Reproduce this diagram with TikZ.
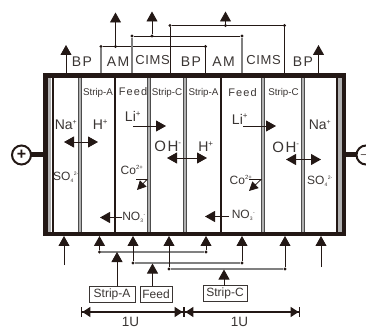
\documentclass[tikz,border=0pt]{standalone}
\usepackage{fontspec}
\setmainfont{Liberation Sans}
\newfontfamily\wide[LetterSpace=10]{Liberation Sans}
\newfontfamily\widec[LetterSpace=5]{Liberation Sans}
\usetikzlibrary{arrows.meta}
\definecolor{ink}{HTML}{231815}
\definecolor{memb}{HTML}{B0B0B0}
\definecolor{wire}{HTML}{808080}
\definecolor{txt}{HTML}{3A3533}
\tikzset{
  x=1pt,y=-1pt,
  every node/.style={inner sep=0pt,outer sep=0pt,text=txt},
  tip/.style={-{Triangle[length=10pt,width=11pt]},ink,line width=.9pt},
  twotip/.style={{Triangle[length=10pt,width=11pt]}-{Triangle[length=10pt,width=11pt]},ink,line width=.9pt},
  smalltip/.style={-{Triangle[length=9pt,width=9pt]},ink,line width=.8pt},
  dimline/.style={{Bar[width=10pt,length=.8pt]Triangle[length=8pt,width=10pt]}-{Triangle[length=8pt,width=10pt]Bar[width=10pt,length=.8pt]},ink,line width=1.4pt},
  graywire/.style={wire,line width=1.2pt},
  darkwire/.style={ink,line width=.8pt},
  junction/.style={circle,fill=ink,minimum size=3.4pt},
  membrane/.style={draw=gray!60!black,line width=.7pt,double=memb,double distance=2.4pt},
  blackline/.style={ink,line width=1.5pt},
  frame/.style={draw=ink,line width=4.6pt},
  feedbox/.style={draw=txt,line width=.7pt,minimum height=16pt,font=\fontsize{12}{13}\selectfont},
  head/.style={font=\wide\fontsize{14}{15}\selectfont},
  headc/.style={font=\widec\fontsize{13}{14}\selectfont},
  cell/.style={font=\fontsize{9.8}{10}\selectfont},
  cellb/.style={font=\wide\fontsize{11}{12}\selectfont},
  ion/.style={font=\fontsize{14}{15}\selectfont},
  ionb/.style={font=\wide\fontsize{15}{16}\selectfont},
  ionc/.style={font=\fontsize{12}{13}\selectfont},
  pole/.style={circle,draw=ink,line width=2pt,minimum size=19pt,fill=white,font=\bfseries\fontsize{16}{16}\selectfont,text=ink},
  ulabel/.style={font=\fontsize{13.5}{14}\selectfont}
}
\newcommand{\sscr}[2]{$\vphantom{X}^{\hbox{\fontsize{#1}{#1}\selectfont #2}}$}
\newcommand{\ssub}[2]{$\vphantom{X}_{\hbox{\fontsize{#1}{#1}\selectfont #2}}$}
\begin{document}
\begin{tikzpicture}
\useasboundingbox (0,0) rectangle (366,328);
% cell stack
\draw[membrane] (80,76) -- (80,233);
\draw[blackline] (115,76) -- (115,233);
\draw[membrane] (149,76) -- (149,233);
\draw[membrane] (185,76) -- (185,233);
\draw[blackline] (221,76) -- (221,233);
\draw[membrane] (263,76) -- (263,233);
\draw[membrane] (303,76) -- (303,233);
\draw[memb,line width=3.5pt] (49.5,76) -- (49.5,233);
\draw[ink,line width=2pt] (52.5,76) -- (52.5,233);
\draw[ink,line width=2pt] (336.5,76) -- (336.5,233);
\draw[memb,line width=3.5pt] (340,76) -- (340,233);
\draw[frame] (45.3,75.5) rectangle (344,234.2);
% electrodes
\node[pole] (plus) at (21.5,155) {+};
\node[pole] (minus) at (366,155) {\raisebox{1pt}{$-$}};
\coordinate (lstub) at (45,155);
\coordinate (rstub) at (344,155);
\draw[ink,line width=5pt] (plus) -- (lstub);
\draw[ink,line width=5pt] (minus) -- (rstub);
% top outlets
\coordinate (bpL0) at (66,73); \coordinate (bpLt) at (66,45);
\draw[tip] (bpL0) -- (bpLt);
\coordinate (bpR0) at (318.5,73); \coordinate (bpRt) at (318.5,45);
\draw[tip] (bpR0) -- (bpRt);
\node[junction] (a1) at (101,46.5) {};
\node[junction] (a2) at (115.5,46.5) {};
\node[junction] (a3) at (205.5,46.5) {};
\node[junction] (b1) at (132,36) {};
\node[junction] (b2) at (152,36) {};
\node[junction] (b3) at (242,36) {};
\node[junction] (c1) at (170,25.5) {};
\node[junction] (c2) at (225.5,25.5) {};
\node[junction] (c3) at (284.5,25.5) {};
\coordinate (a1f) at (101,73); \coordinate (a3f) at (205.5,73);
\coordinate (b1f) at (132,73); \coordinate (b3f) at (242,73);
\coordinate (c1f) at (170,73); \coordinate (c3f) at (284.5,73);
\draw[darkwire] (a1) -- (a3);
\draw[darkwire] (b1) -- (b3);
\draw[darkwire] (c1) -- (c3);
\draw[graywire] (a1f) -- (a1);
\draw[darkwire] (a3f) -- (a3);
\draw[graywire] (b1f) -- (b1);
\draw[graywire] (b3f) -- (b3);
\draw[darkwire] (c1f) -- (c1);
\draw[darkwire] (c3f) -- (c3);
\coordinate (a2t) at (115.5,12.5); \coordinate (b2t) at (152,11.5); \coordinate (c2t) at (225.5,11.5);
\draw[tip] (a2) -- (a2t);
\draw[tip] (b2) -- (b2t);
\draw[tip] (c2) -- (c2t);
% bottom inlets
\coordinate (inL0) at (64,265); \coordinate (inLt) at (64,236);
\draw[tip] (inL0) -- (inLt);
\coordinate (inR0) at (321,267); \coordinate (inRt) at (321,236);
\draw[tip] (inR0) -- (inRt);
\node[junction] (d1) at (99.5,252) {};
\node[junction] (d2) at (206,252) {};
\node[junction] (e1) at (133,263) {};
\node[junction] (e2) at (242,263) {};
\node[junction] (f1) at (169,269) {};
\node[junction] (f2) at (285,269) {};
\draw[graywire] (d1) -- (d2);
\draw[wire,line width=1.6pt] (e1) -- (e2);
\draw[graywire] (f1) -- (f2);
\coordinate (d1t) at (99.5,236); \coordinate (d2t) at (206,236);
\coordinate (e1t) at (133,236); \coordinate (e2t) at (242,236);
\coordinate (f1t) at (169,236); \coordinate (f2t) at (285,236);
\draw[tip] (d1) -- (d1t);
\draw[tip] (d2) -- (d2t);
\draw[tip] (e1) -- (e1t);
\draw[tip] (e2) -- (e2t);
\draw[tip] (f1) -- (f1t);
\draw[tip] (f2) -- (f2t);
% feed boxes
\node[feedbox,minimum width=46pt] (sa) at (112,294) {Strip-A};
\node[feedbox,minimum width=32pt] (fd) at (156,294) {Feed};
\node[feedbox,minimum width=44pt] (sc) at (225,293.5) {Strip-C};
\coordinate (saT) at (117,252); \coordinate (saB) at (117,286);
\coordinate (fdT) at (152.5,263.5); \coordinate (fdB) at (152.5,286);
\coordinate (scT) at (224,269.5); \coordinate (scB) at (224,285.5);
\draw[tip] (saB) -- (saT);
\draw[tip] (fdB) -- (fdT);
\draw[tip] (scB) -- (scT);
% 1U dimensions
\coordinate (u0) at (81,312); \coordinate (u1) at (184,312); \coordinate (u2) at (300,312);
\draw[dimline] (u0) -- (u1);
\draw[dimline] (u1) -- (u2);
\node[ulabel] (ua) at (130.5,321.5) {1U};
\node[ulabel] (ub) at (239.5,321.5) {1U};
% top labels
\node[head] (t1) at (82,62) {BP};
\node[head] (t2) at (118,62) {AM};
\node[headc] (t3) at (152.5,60.5) {CIMS};
\node[head] (t4) at (191,61.5) {BP};
\node[head] (t5) at (223.5,62) {AM};
\node[headc] (t6) at (263.5,60.5) {CIMS};
\node[head] (t7) at (303,62) {BP};
% cell labels
\node[cell] (s1) at (98,92.5) {Strip-A};
\node[cellb] (s2) at (133,92) {Feed};
\node[cell] (s3) at (167,93) {Strip-C};
\node[cell] (s4) at (203.5,93) {Strip-A};
\node[cellb] (s5) at (242.5,93) {Feed};
\node[cell] (s6) at (283.5,92.5) {Strip-C};
% ions
\node[ion] (na1) at (66,125) {Na\sscr{7}{+}};
\node[ion] (h1) at (100.5,125) {H\sscr{8}{+}};
\node[ion] (li1) at (133,116.5) {Li\sscr{8}{+}};
\node[ionb] (oh1) at (168,146) {OH\sscr{8}{-}};
\node[ion] (h2) at (206,147) {H\sscr{8}{+}};
\node[ion] (li2) at (240,119) {Li\sscr{8}{+}};
\node[ionb] (oh2) at (286,147) {OH\sscr{8}{-}};
\node[ion] (na2) at (320,125) {Na\sscr{7}{+}};
\node[ionc] (so1) at (66,177) {SO\ssub{5}{4}\sscr{5}{2-}};
\node[ionc] (so2) at (320,181) {SO\ssub{5}{4}\sscr{5}{2-}};
\node[ionc] (co1) at (132,170) {Co\sscr{6}{2+}};
\node[ionc] (co2) at (241,180) {Co\sscr{6}{2+}};
\node[ionc] (no1) at (134,217.5) {NO\ssub{5}{3}\sscr{5}{-}};
\node[ionc] (no2) at (243.5,215.5) {NO\ssub{5}{3}\sscr{5}{-}};
% ion arrows
\coordinate (p1) at (64,142); \coordinate (p2) at (98,142);
\draw[twotip] (p1) -- (p2);
\coordinate (p3) at (133,126); \coordinate (p4) at (166,126);
\draw[tip] (p3) -- (p4);
\coordinate (p5) at (167,158); \coordinate (p6) at (207,158);
\draw[twotip] (p5) -- (p6);
\coordinate (p7) at (243,126); \coordinate (p8) at (276,126);
\draw[tip] (p7) -- (p8);
\coordinate (p9) at (286,159.5); \coordinate (p10) at (321,159.5);
\draw[twotip] (p9) -- (p10);
\coordinate (q1) at (122,217.5); \coordinate (q2) at (100,217.5);
\draw[tip] (q1) -- (q2);
\coordinate (q3) at (229,216.5); \coordinate (q4) at (205,216.5);
\draw[tip] (q3) -- (q4);
\coordinate (r1) at (136,179.5); \coordinate (r2) at (147,179.5); \coordinate (r3) at (137,190);
\draw[smalltip] (r1) -- (r2) -- (r3);
\coordinate (r4) at (249,179.5); \coordinate (r5) at (261,179.5); \coordinate (r6) at (249,191);
\draw[smalltip] (r4) -- (r5) -- (r6);
\end{tikzpicture}
\end{document}
